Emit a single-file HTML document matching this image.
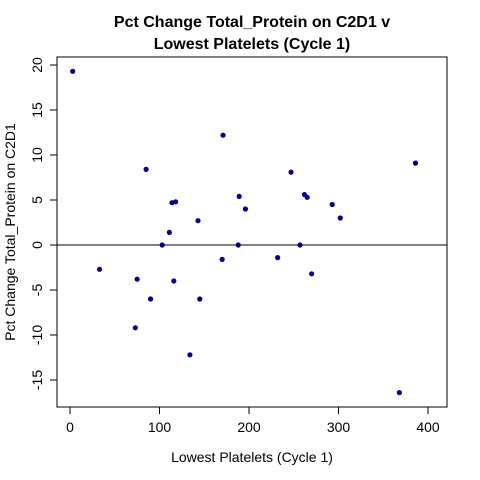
<!DOCTYPE html>
<html><head><meta charset="utf-8"><style>body{margin:0;background:#fff}svg{display:block;font-family:"Liberation Sans",sans-serif}</style></head>
<body>
<svg id="chart" width="480" height="480">
<text x="252" y="27" text-anchor="middle" font-size="16" font-weight="bold">Pct Change Total_Protein on C2D1 v</text>
<text x="252" y="49" text-anchor="middle" font-size="16" font-weight="bold">Lowest Platelets (Cycle 1)</text>
<rect x="57" y="57" width="390" height="350" fill="none" stroke="#000"/>
<text x="252" y="462" text-anchor="middle" font-size="14">Lowest Platelets (Cycle 1)</text>
<text transform="translate(15,232) rotate(-90)" text-anchor="middle" font-size="14">Pct Change Total_Protein on C2D1</text>
<g id="axes"></g><g id="pts"></g>
</svg>
<script>
const xVals=[3,33,75,73,85,90,103,111,114,118,116,134,143,145,171,170,189,188,196,232,247,257,262,265,270,293,302,368,386];
const yVals=[19.3,-2.7,-3.8,-9.2,8.4,-6,0,1.4,4.7,4.8,-4,-12.2,2.7,-6,12.2,-1.6,5.4,0,4,-1.4,8.1,0,5.6,5.3,-3.2,4.5,3,-16.4,9.1];
const xTicks=[0,100,200,300,400];
const yTicks=[-15,-10,-5,0,5,10,15,20];
const ns="http://www.w3.org/2000/svg";
const xs=v=>70+v*0.895, ys=v=>245-v*9;
const ax=document.getElementById('axes'), pg=document.getElementById('pts');
function mk(t,a,p){const e=document.createElementNS(ns,t);for(const k in a)e.setAttribute(k,a[k]);p.appendChild(e);return e;}
mk('line',{x1:xs(0),x2:xs(400),y1:407,y2:407,stroke:'#000'},ax);
mk('line',{x1:57,x2:57,y1:ys(-15),y2:ys(20),stroke:'#000'},ax);
xTicks.forEach(v=>{mk('line',{x1:xs(v),x2:xs(v),y1:407,y2:414,stroke:'#000'},ax);
const t=mk('text',{x:xs(v),y:432,'text-anchor':'middle','font-size':14},ax);t.textContent=v;

});
yTicks.forEach(v=>{mk('line',{x1:50,x2:57,y1:ys(v),y2:ys(v),stroke:'#000'},ax);
const t=mk('text',{transform:`translate(42,${ys(v)}) rotate(-90)`,'text-anchor':'middle','font-size':14},ax);t.textContent=v;

});
const z=mk('line',{x1:57,x2:447,y1:ys(0),y2:ys(0),stroke:'#000'},ax);


xVals.forEach((v,i)=>{const c=mk('circle',{cx:xs(v),cy:ys(yVals[i]),r:2.6,fill:'#00008B'},pg);

});
</script>
</body></html>
